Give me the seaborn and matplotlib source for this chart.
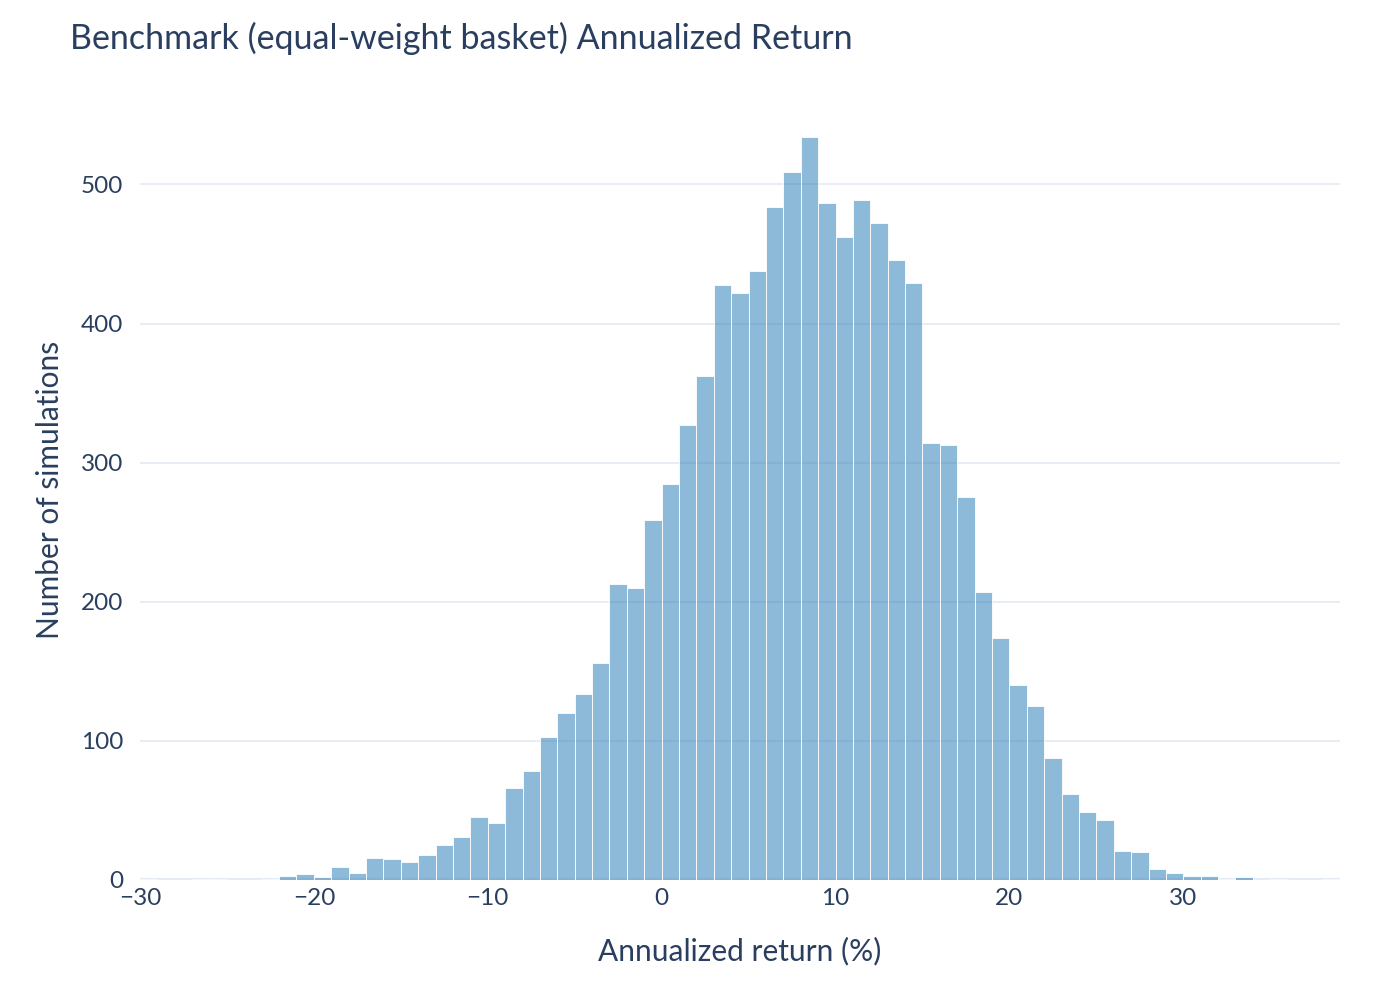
import numpy as np
import pandas as pd
import matplotlib
matplotlib.use("Agg")
import matplotlib.pyplot as plt
import seaborn as sns

# ---- data ----
bin_start = -30
bin_width = 1
counts = [
    1, 0, 0, 1, 1, 0, 0, 1, 3, 4,          # -30 .. -21
    2, 9, 5, 16, 15, 13, 18, 25, 31, 45,   # -20 .. -11
    41, 66, 78, 103, 120, 134, 156, 213, 210, 259,  # -10 .. -1
    285, 327, 362, 428, 422, 438, 484, 509, 534, 487,  # 0 .. 9
    462, 489, 472, 446, 429, 314, 313, 275, 207, 174,  # 10 .. 19
    140, 125, 88, 62, 49, 43, 21, 20, 8, 5,            # 20 .. 29
    3, 3, 1, 2, 0, 1, 0, 0, 1,                         # 30 .. 38
]
x_ticks = [-30, -20, -10, 0, 10, 20, 30]
y_ticks = [0, 100, 200, 300, 400, 500]
title = "Benchmark (equal-weight basket) Annualized Return"
x_label = "Annualized return (%)"
y_label = "Number of simulations"

edges = [float(bin_start + bin_width * i) for i in range(len(counts) + 1)]
centers = [(edges[i] + edges[i + 1]) / 2 for i in range(len(counts))]
df = pd.DataFrame({"ret": centers, "n": counts})

# ---- style ----
sns.set_theme(style="white")
plt.rcParams["font.family"] = ["Lato", "DejaVu Sans"]
text_color = "#2a3f5f"
grid_color = "#e6ecf5"

fig = plt.figure(figsize=(14, 10), dpi=100)
ax = fig.add_axes([0.10, 0.12, 0.857, 0.78])

ax.axhline(0, color=grid_color, lw=3, zorder=1)
for y in y_ticks[1:]:
    ax.axhline(y, color=grid_color, lw=1.3, zorder=1)

sns.histplot(data=df, x="ret", weights="n", bins=edges, ax=ax,
             color="#1f77b4", alpha=0.5, edgecolor="white", linewidth=0.6,
             zorder=3)

ax.set_xlim(-30, 39)
ax.set_ylim(0, max(counts) * 1.05)

for s in ax.spines.values():
    s.set_visible(False)

ax.set_xticks(x_ticks)
ax.set_xticklabels([f"{v}".replace("-", "\u2212") for v in x_ticks])
ax.set_yticks(y_ticks)
ax.set_yticklabels([str(v) for v in y_ticks])
ax.tick_params(axis="x", length=0, pad=6, labelsize=17.5, colors=text_color)
ax.tick_params(axis="y", length=0, pad=12, labelsize=17.5, colors=text_color)

ax.set_xlabel(x_label, fontsize=21.5, color=text_color, labelpad=20)
ax.set_ylabel(y_label, fontsize=21.5, color=text_color, labelpad=12)

fig.text(0.05, 0.962, title, fontsize=24.5, color=text_color, ha="left", va="center")

fig.savefig("out.png", dpi=100, facecolor="white")
